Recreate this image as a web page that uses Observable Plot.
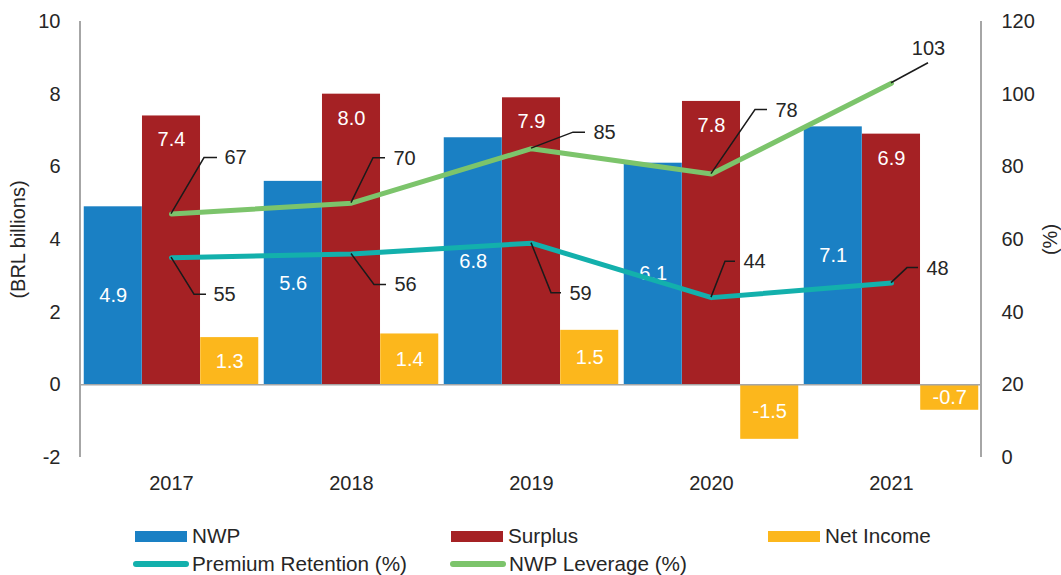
<!DOCTYPE html>
<html><head><meta charset="utf-8">
<script src="https://cdn.jsdelivr.net/npm/d3@7"></script>
<script src="https://cdn.jsdelivr.net/npm/@observablehq/plot@0.6"></script>
<style>
body{margin:0;background:#fff;font-family:"Liberation Sans",Arial,sans-serif;}
#wrap{position:relative;width:1061px;height:575px;overflow:hidden;}
#chart svg{display:block;}
.leg{position:absolute;font-size:20.7px;color:#262626;line-height:21px;white-space:nowrap;}
.sw{position:absolute;}
</style></head><body>
<div id="wrap"><div id="chart"></div><div id="legend"></div></div>
<script>
// ---- data ----
const years = ["2017", "2018", "2019", "2020", "2021"];
const nwp = [4.9, 5.6, 6.8, 6.1, 7.1];
const surplus = [7.4, 8.0, 7.9, 7.8, 6.9];
const netIncome = [1.3, 1.4, 1.5, -1.5, -0.7];
const premiumRetention = [55, 56, 59, 44, 48];
const nwpLeverage = [67, 70, 85, 78, 103];
const leftTicks = [-2, 0, 2, 4, 6, 8, 10];
const rightTicks = [0, 20, 40, 60, 80, 100, 120];

// ---- styles / layout ----
const C = {nwp: "#1a80c4", surplus: "#a52124", net: "#fcb71c", ret: "#13b0ac", lev: "#7cc46b", text: "#262626", axis: "#a6a6a6"};
const W = 1061, H = 500, mL = 80, mR = 80, mT = 21, mB = 43;
const band = (W - mL - mR) / years.length;
const pad = 2.75;
const barW = (band - 2 * pad) / 3;
// leader layout (pixel offsets from the point): elbow, horizontal end, label offset, anchor
const levLeaders = [
  {ex: 33, ey: -56, hx: 46, lx: 53, ly: -56, a: "start"},
  {ex: 22, ey: -45, hx: 34, lx: 42, ly: -45, a: "start"},
  {ex: 42, ey: -16, hx: 54, lx: 62, ly: -16, a: "start"},
  {ex: 44, ey: -64, hx: 56, lx: 64, ly: -64, a: "start"},
  {ex: 37, ey: -20, hx: null, lx: 37, ly: -35, a: "middle"}
];
const retLeaders = [
  {ex: 23, ey: 37, hx: 35, lx: 42, ly: 37, a: "start"},
  {ex: 23, ey: 31, hx: 35, lx: 43, ly: 31, a: "start"},
  {ex: 20, ey: 50, hx: 30, lx: 38, ly: 50, a: "start"},
  {ex: 14, ey: -36, hx: 24, lx: 32, ly: -36, a: "start"},
  {ex: 16, ey: -15, hx: 27, lx: 35, ly: -15, a: "start"}
];

const toLeft = r => r / 10 - 2; // right-axis (%) -> left-axis units
const rows = years.map((y, i) => ({
  year: y, nwp: nwp[i], surplus: surplus[i], net: netIncome[i],
  ret: toLeft(premiumRetention[i]), lev: toLeft(nwpLeverage[i]),
  retLabel: String(premiumRetention[i]), levLabel: String(nwpLeverage[i])
}));

const fmt = v => v.toFixed(1);
const lineLabels = [];
rows.forEach((d, i) => {
  const L = levLeaders[i], R = retLeaders[i];
  lineLabels.push(Plot.text([d], {x: "year", y: "lev", text: "levLabel", dx: L.lx, dy: L.ly, textAnchor: L.a, fill: C.text, fontSize: 20}));
  lineLabels.push(Plot.text([d], {x: "year", y: "ret", text: "retLabel", dx: R.lx, dy: R.ly, textAnchor: R.a, fill: C.text, fontSize: 20}));
});

const plot = Plot.plot({
  width: W, height: H,
  marginLeft: mL, marginRight: mR, marginTop: mT, marginBottom: mB,
  style: {fontFamily: "'Liberation Sans', Arial, sans-serif", fontSize: "20px", color: C.text, background: "#fff"},
  x: {type: "band", domain: years, padding: 0},
  y: {domain: [-2, 10]},
  marks: [
    Plot.axisY({ticks: leftTicks, tickFormat: d => String(d), tickSize: 0, tickPadding: 20, label: null, fontSize: 20, fill: C.text}),
    Plot.axisY({anchor: "right", ticks: rightTicks.map(toLeft), tickFormat: d => String(Math.round((d + 2) * 10)), tickSize: 0, tickPadding: 20, label: null, fontSize: 20, fill: C.text}),
    Plot.axisX({tickSize: 0, tickPadding: 18, label: null, fontSize: 20, fill: C.text}),
    Plot.barY(rows, {x: "year", y: "nwp", fill: C.nwp, insetLeft: pad, insetRight: pad + 2 * barW}),
    Plot.barY(rows, {x: "year", y: "surplus", fill: C.surplus, insetLeft: pad + barW, insetRight: pad + barW}),
    Plot.barY(rows, {x: "year", y: "net", fill: C.net, insetLeft: pad + 2 * barW, insetRight: pad}),
    Plot.ruleY([0], {stroke: C.axis, strokeWidth: 1.5}),
    Plot.text(rows, {x: "year", y: d => d.nwp / 2, text: d => fmt(d.nwp), dx: -barW, fill: "white", fontSize: 20}),
    Plot.text(rows, {x: "year", y: "surplus", text: d => fmt(d.surplus), dy: 24, fill: "white", fontSize: 20}),
    Plot.text(rows, {x: "year", y: d => d.net / 2, text: d => fmt(d.net), dx: barW, fill: "white", fontSize: 20}),
    Plot.line(rows, {x: "year", y: "ret", stroke: C.ret, strokeWidth: 5, strokeLinejoin: "round", strokeLinecap: "round"}),
    Plot.line(rows, {x: "year", y: "lev", stroke: C.lev, strokeWidth: 5, strokeLinejoin: "round", strokeLinecap: "round"}),
    ...lineLabels,
    Plot.text(["(BRL billions)"], {frameAnchor: "left", textAnchor: "middle", dx: -62, rotate: -90, fill: C.text, fontSize: 20}),
    Plot.text(["(%)"], {frameAnchor: "right", textAnchor: "middle", dx: 69, rotate: -90, fill: C.text, fontSize: 20})
  ]
});
document.getElementById("chart").appendChild(plot);

// axis lines and leader lines via the plot's own scales
const xs = plot.scale("x"), ys = plot.scale("y");
const cx = v => xs.apply(v) + xs.bandwidth / 2;
const svg = d3.select(plot);
const g = svg.append("g");
const [x0, x1] = xs.range;
[x0, x1].forEach(xx => g.append("line").attr("x1", xx).attr("x2", xx)
  .attr("y1", ys.apply(10)).attr("y2", ys.apply(-2)).attr("stroke", C.axis).attr("stroke-width", 2));
rows.forEach((d, i) => {
  [[d.lev, levLeaders[i]], [d.ret, retLeaders[i]]].forEach(([v, L]) => {
    const px = cx(d.year), py = ys.apply(v);
    let p = `M${px},${py}L${px + L.ex},${py + L.ey}`;
    if (L.hx != null) p += `H${px + L.hx}`;
    g.append("path").attr("d", p).attr("fill", "none").attr("stroke", "#1a1a1a").attr("stroke-width", 1.5);
  });
});

// legend
const legend = document.getElementById("legend");
const items = [
  {label: "NWP", color: C.nwp, type: "rect", x: 135, y: 536},
  {label: "Surplus", color: C.surplus, type: "rect", x: 451, y: 536},
  {label: "Net Income", color: C.net, type: "rect", x: 768, y: 536},
  {label: "Premium Retention (%)", color: C.ret, type: "line", x: 133, y: 564},
  {label: "NWP Leverage (%)", color: C.lev, type: "line", x: 450, y: 564}
];
items.forEach(it => {
  const sw = document.createElement("div");
  sw.className = "sw";
  if (it.type === "rect") {
    Object.assign(sw.style, {left: it.x + "px", top: (it.y - 5.5) + "px", width: "52px", height: "11px", background: it.color});
  } else {
    Object.assign(sw.style, {left: it.x + "px", top: (it.y - 3) + "px", width: "56px", height: "6px", background: it.color, borderRadius: "3px"});
  }
  legend.appendChild(sw);
  const t = document.createElement("div");
  t.className = "leg";
  t.textContent = it.label;
  Object.assign(t.style, {left: (it.x + (it.type === "rect" ? 57 : 59)) + "px", top: (it.y - 11) + "px"});
  legend.appendChild(t);
});
</script>
</body></html>
